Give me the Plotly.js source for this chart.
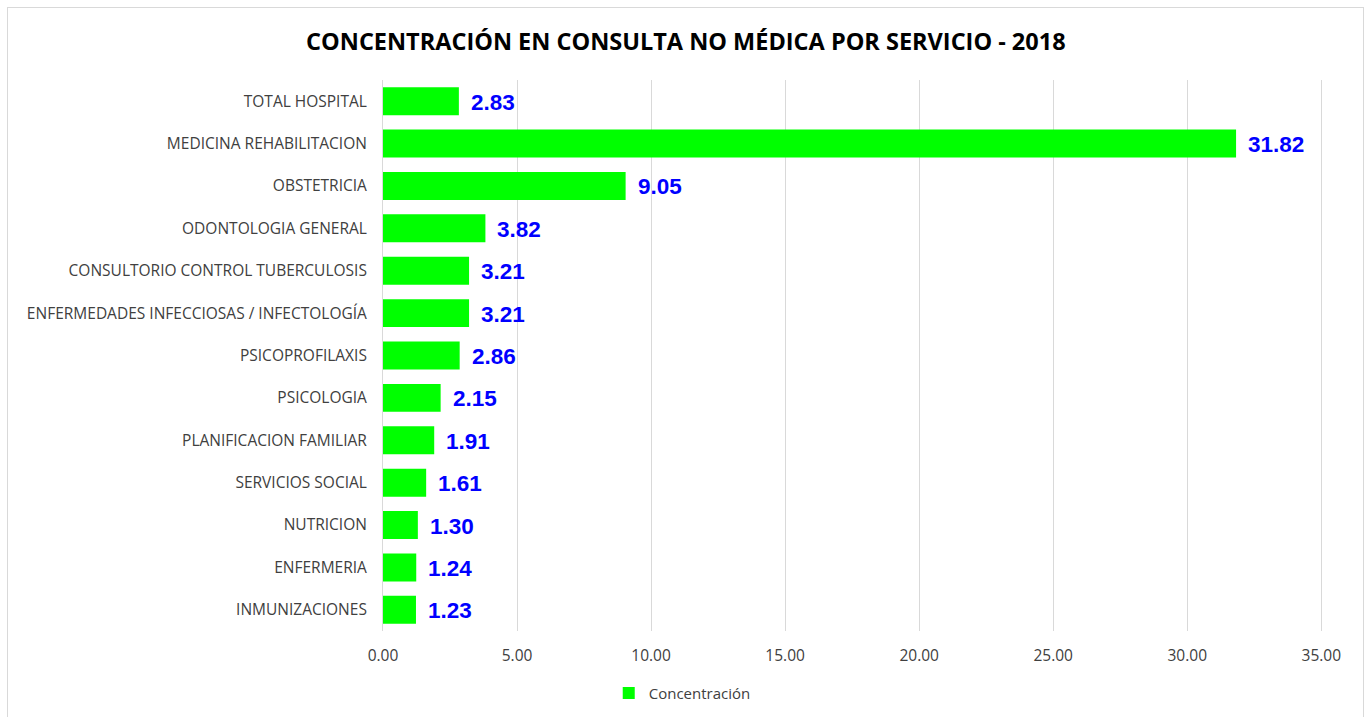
<!DOCTYPE html>
<html><head><meta charset="utf-8">
<script src="https://cdn.plot.ly/plotly-3.0.1.min.js"></script>
<style>
html,body{margin:0;padding:0;background:#fff;overflow:hidden;}
#frame{position:absolute;left:7px;top:7px;width:1357px;height:730px;border:1px solid #d9d9d9;box-sizing:border-box;}
#chart{position:absolute;left:0;top:0;width:1369px;height:717px;}
</style></head>
<body>
<div id="frame"></div>
<div id="chart"></div>
<script>
const categories = ["TOTAL HOSPITAL","MEDICINA REHABILITACION","OBSTETRICIA","ODONTOLOGIA GENERAL","CONSULTORIO CONTROL TUBERCULOSIS","ENFERMEDADES INFECCIOSAS / INFECTOLOGÍA","PSICOPROFILAXIS","PSICOLOGIA","PLANIFICACION FAMILIAR","SERVICIOS SOCIAL","NUTRICION","ENFERMERIA","INMUNIZACIONES"];
const values = [2.83,31.82,9.05,3.82,3.21,3.21,2.86,2.15,1.91,1.61,1.30,1.24,1.23];
const seriesName = "Concentración";
const tickVals = [0,5,10,15,20,25,30,35];
const tickText = tickVals.map(v => v.toFixed(2));

const trace = {
  type: 'bar', orientation: 'h', name: seriesName,
  y: categories, x: values,
  marker: {color: '#00ff00'},
  hoverinfo: 'x+y'
};
const annotations = values.map((v, i) => ({
  x: v, y: categories[i], xref: 'x', yref: 'y',
  text: v.toFixed(2), showarrow: false, xanchor: 'left', xshift: 10, yshift: -1,
  font: {family: 'Liberation Sans, Arial, sans-serif', size: 22.5, color: '#0000ff', weight: 'bold'}
}));
const layout = {
  width: 1369, height: 717,
  paper_bgcolor: 'rgba(0,0,0,0)', plot_bgcolor: 'rgba(0,0,0,0)',
  margin: {l: 383, r: 45, t: 80, b: 86, autoexpand: false},
  title: {text: '<b>CONCENTRACIÓN EN CONSULTA NO MÉDICA POR SERVICIO - 2018</b>',
    x: 0.501, xanchor: 'center', y: 0.942, yanchor: 'middle',
    font: {family: 'Open Sans, sans-serif', size: 23.5, color: '#000'}},
  bargap: 0.34,
  showlegend: true,
  legend: {orientation: 'h', x: 0.318, xanchor: 'center', y: -0.083, yanchor: 'top',
    font: {family: 'Open Sans, sans-serif', size: 15, color: '#404040'}},
  xaxis: {range: [0, 35.1], tickvals: tickVals, ticktext: tickText, automargin: false,
    showgrid: true, gridcolor: '#d9d9d9', gridwidth: 1, zeroline: false,
    showline: false, ticks: '', ticklabelstandoff: 13,
    tickfont: {family: 'Open Sans, sans-serif', size: 15.5, color: '#404040'}},
  yaxis: {autorange: 'reversed', showline: true, linecolor: '#d9d9d9', linewidth: 1,
    ticks: '', ticklabelstandoff: 12, showgrid: false, automargin: false,
    tickfont: {family: 'Open Sans, sans-serif', size: 15.5, color: '#404040'}},
  annotations: annotations
};
Plotly.newPlot('chart', [trace], layout, {displayModeBar: false, staticPlot: true});
</script>
</body></html>
